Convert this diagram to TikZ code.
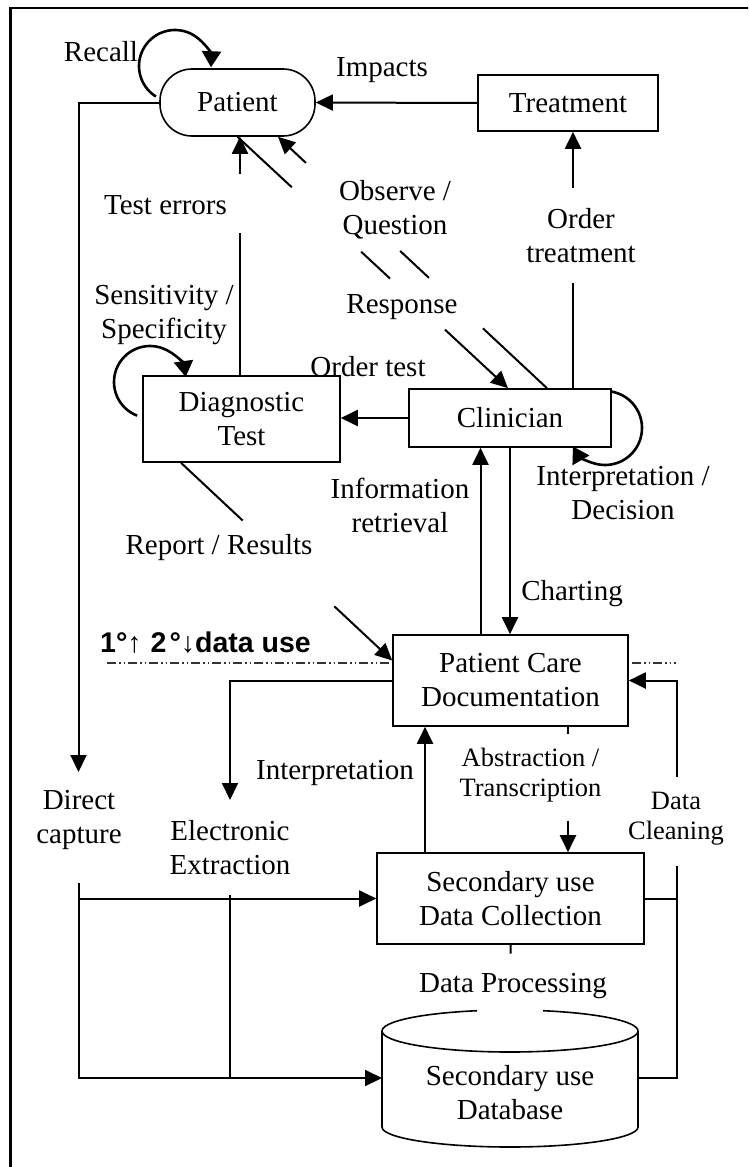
\documentclass[tikz,border=0pt]{standalone}
\usepackage{fontspec}
\setmainfont{Liberation Serif}
\setsansfont{Liberation Sans}
\newfontfamily\arrowfont{Liberation Sans}
\usetikzlibrary{arrows.meta,calc}

\begin{document}
\begin{tikzpicture}[x=1pt,y=1pt,
  lbl/.style={inner sep=0pt, align=center, font=\fontsize{29}{34}\selectfont},
  sml/.style={inner sep=0pt, align=center, font=\fontsize{26.5}{30}\selectfont},
  box/.style={draw, line width=1.6pt, fill=white, inner sep=0pt, align=center, font=\fontsize{29}{34}\selectfont},
  conn/.style={line width=2pt},
  arr/.style={conn, -{Triangle[length=17pt,width=16pt]}},
  selfloop/.style={line width=2.6pt, -{Triangle[length=16pt,width=19pt]}},
  border/.style={line width=2.6pt},
  datasep/.style={line width=1.1pt, draw=black!80, dash pattern=on 9pt off 3pt on 1.5pt off 3pt on 1.5pt off 3pt}
]
\useasboundingbox (0,0) rectangle (748,-1167);
\clip (0,0) rectangle (748,-1167);
\draw[border] (10.5,-8) rectangle (770,-1190);

% primary / secondary data use separator
\draw[datasep] (107,-663) -- (676,-663);

% main process boxes
\node[box, rounded corners=32pt, minimum width=155pt, minimum height=67pt] (patient) at (237.5,-102.5) {Patient};
\node[box, minimum width=180pt, minimum height=56pt] (treatment) at (568,-103) {Treatment};
\node[box, minimum width=197pt, minimum height=86pt] (diag) at (241.5,-419) {Diagnostic\\Test};
\node[box, minimum width=202pt, minimum height=58pt] (clin) at (510,-418) {Clinician};
\node[box, minimum width=235pt, minimum height=91pt] (pcd) at (510.5,-680.5) {Patient Care\\Documentation};
\node[box, minimum width=267pt, minimum height=91pt] (sdc) at (510.5,-898.5) {Secondary use\\Data Collection};

% database cylinder
\draw[line width=1.6pt] (382,-1031) -- (382,-1127) arc[start angle=180, end angle=360, x radius=128, y radius=20] -- (638,-1031);
\draw[line width=1.6pt] ($(510,-1031)+(105:128 and 21)$) arc[start angle=105, end angle=435, x radius=128, y radius=21];
\node[lbl] (db) at (510,-1093) {Secondary use\\Database};
\coordinate (dbw) at (382,-1078);
\coordinate (dbe) at (638,-1078);

% labels
\node[lbl] (recall) at (101,-52) {Recall};
\node[lbl] (impacts) at (382,-70) {Impacts};
\node[lbl] (testerr) at (165.5,-205) {Test errors};
\node[lbl] (observe) at (395,-210) {Observe /\\Question};
\node[lbl] (ordtreat) at (581,-235.5) {Order\\treatment};
\node[lbl] (sensit) at (164,-315.5) {Sensitivity /\\Specificity};
\node[lbl] (response) at (402,-307) {Response};
\node[lbl] (ordtest) at (368,-367) {Order test};
\node[lbl] (inforet) at (400,-505.5) {Information\\retrieval};
\node[lbl] (interpdec) at (623,-493.5) {Interpretation /\\Decision};
\node[lbl] (report) at (219,-548) {Report / Results};
\node[lbl] (charting) at (572,-594) {Charting};
\node[lbl] (interp) at (335,-773) {Interpretation};
\node[lbl] (direct) at (79,-820) {Direct\\capture};
\node[lbl] (elec) at (230,-847.5) {Electronic\\Extraction};
\node[sml] (abstr) at (530.5,-775.5) {Abstraction /\\Transcription};
\node[sml] (clean) at (676,-818.5) {Data\\Cleaning};
\node[lbl] (dproc) at (513,-986) {Data Processing};
\node[anchor=base west, inner sep=0pt, font=\fontsize{28.5}{30}\selectfont\sffamily\bfseries] (datause) at (100,-652)
  {1°{\mdseries\arrowfont ↑}\hspace{9pt}2\hspace{3pt}°{\mdseries\arrowfont ↓}data use};

% self loops
\draw[selfloop] ([shift={(-62.5,36.5)}]patient.center) ++(238:36) arc[start angle=238, end angle=-2, radius=36];
\draw[selfloop] ([shift={(-91.5,37)}]diag.center) ++(249:36) arc[start angle=249, end angle=8, radius=36];
\draw[selfloop] ([shift={(95,-10)}]clin.center) ++(80:37) arc[start angle=80, end angle=-150, radius=37];

% treatment impacts patient
\draw[arr] (treatment.west) -- (patient.east);

% order treatment
\coordinate (otA) at ([xshift=63pt]clin.north);
\coordinate (otB) at ([xshift=5pt]treatment.south);
\draw[conn] (otA) -- ($(otA)!0.411!(otB)$);
\draw[arr] ($(otA)!0.779!(otB)$) -- (otB);

% test errors
\coordinate (teA) at ([xshift=-1.5pt]diag.north);
\coordinate (teB) at ([xshift=2.5pt]patient.south);
\draw[conn] (teA) -- ($(teA)!0.596!(teB)$);
\draw[arr] ($(teA)!0.846!(teB)$) -- (teB);

% response
\coordinate (rA) at (patient.south);
\coordinate (rB) at ([xshift=-2pt]clin.north);
\draw[conn] (rA) -- ($(rA)!0.201!(rB)$);
\draw[conn] ($(rA)!0.457!(rB)$) -- ($(rA)!0.564!(rB)$);
\draw[arr] ($(rA)!0.767!(rB)$) -- (rB);

% observe / question
\coordinate (oA) at ([xshift=37pt]clin.north);
\coordinate (oB) at ([xshift=40.5pt]patient.south);
\draw[conn] (oA) -- ($(oA)!0.238!(oB)$);
\draw[conn] ($(oA)!0.439!(oB)$) -- ($(oA)!0.546!(oB)$);
\draw[arr] ($(oA)!0.896!(oB)$) -- (oB);

% report / results
\coordinate (repA) at ([xshift=-60.5pt]diag.south);
\coordinate (repB) at ([yshift=20pt]pcd.west);
\draw[conn] (repA) -- ($(repA)!0.292!(repB)$);
\draw[arr] ($(repA)!0.726!(repB)$) -- (repB);

% order test
\draw[arr] (clin.west) -- (clin.west -| diag.east);

% information retrieval and charting
\coordinate (irA) at ([xshift=-30pt]pcd.north);
\draw[arr] (irA) -- (irA |- clin.south);
\draw[arr] (clin.south) -- (clin.south |- pcd.north);

% interpretation -> electronic extraction
\coordinate (eeTip) at (230,-800);
\draw[arr] (pcd.west) -| (eeTip);

% direct capture
\coordinate (dcTip) at (78.5,-772);
\draw[arr] (patient.west) -| (dcTip);

% feeds into secondary use
\coordinate (dcTop) at (79,-883);
\draw[arr] (dcTop) |- (dbw);
\draw[arr] (dcTop |- sdc.west) -- (sdc.west);
\coordinate (eeBot) at (230,-895);
\draw[conn] (eeBot) -- (eeBot |- dbw);

% secondary collection back to documentation
\coordinate (upA) at ([xshift=-85.5pt]sdc.north);
\draw[arr] (upA) -- (upA |- pcd.south);

% abstraction / transcription
\coordinate (abA) at ([xshift=57.5pt]pcd.south);
\coordinate (abB) at ([xshift=57.5pt]sdc.north);
\draw[conn] (abA) -- ($(abA)!0.055!(abB)$);
\draw[arr] ($(abA)!0.748!(abB)$) -- (abB);

% data processing
\coordinate (dpB) at (510.5,-1010);
\draw[conn] (sdc.south) -- ($(sdc.south)!0.136!(dpB)$);

% data cleaning
\coordinate (dcl) at (677,-777);
\coordinate (dclLow) at (677,-866);
\draw[arr] (dcl) |- (pcd.east);
\draw[conn] (dbe) -| (dclLow);
\draw[conn] (sdc.east) -- (sdc.east -| dclLow);
\end{tikzpicture}
\end{document}
